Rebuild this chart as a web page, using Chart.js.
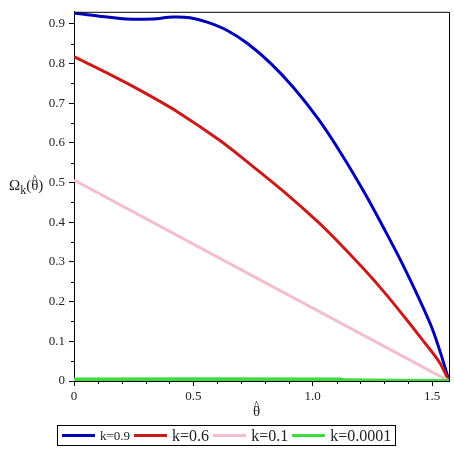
<!DOCTYPE html>
<html>
<head>
<meta charset="utf-8">
<script src="https://cdn.jsdelivr.net/npm/chart.js@4/dist/chart.umd.min.js"></script>
<style>
    body { margin: 0; background: #fff; }
    .wrap { position: relative; width: 454px; height: 454px; font-family: "Liberation Serif", "Times New Roman", serif; }
    canvas { position: absolute; left: 0; top: 0; }
    .ytitle { position: absolute; left: 9px; top: 177px; font-size: 15px; color: #222; white-space: nowrap; }
    .ytitle sub { font-size: 12px; vertical-align: -4px; }
    .xtitle { position: absolute; left: 253px; top: 403px; font-size: 15px; color: #222; }
    .th { position: relative; display: inline-block; }
    .hat { position: absolute; left: 0; width: 100%; text-align: center; top: -0.4em; font-size: 0.8em; }
    .legend { position: absolute; left: 57px; top: 425px; width: 337px; height: 19px; border: 1px solid #000; display: flex; align-items: center; }
    .legend span.line { display: inline-block; width: 33px; height: 3px; margin-left: 4px; margin-right: 5px; }
    .legend span.txt { font-size: 16px; color: #222; }
</style>
</head>
<body>
<div class="wrap">
    <canvas id="myChart" width="454" height="454"></canvas>
    <div class="ytitle">Ω<sub>k</sub>(<span class="th">θ<span class="hat">^</span></span>)</div>
    <div class="xtitle"><span class="th">θ<span class="hat">^</span></span></div>
    <div class="legend" id="legend"></div>
</div>
<script>
const labels = ['k=0.9', 'k=0.6', 'k=0.1', 'k=0.0001'];
const colors = ['#0000b8', '#cc1a1a', '#f2c0ca', '#3ddc3d'];

const k09Theta = [0, 0.106, 0.22, 0.33, 0.414, 0.486, 0.558, 0.642, 0.727, 0.824, 0.921, 1.023, 1.12, 1.217, 1.302, 1.374, 1.445, 1.5, 1.54, 1.5708];
const k09Omega = [0.927, 0.919, 0.912, 0.912, 0.917, 0.915, 0.904, 0.883, 0.85, 0.8, 0.738, 0.66, 0.572, 0.474, 0.38, 0.297, 0.208, 0.133, 0.062, 0];

const k06Theta = [0, 0.148, 0.287, 0.431, 0.613, 0.74, 0.879, 1.023, 1.12, 1.217, 1.302, 1.386, 1.458, 1.53, 1.5708];
const k06Omega = [0.817, 0.773, 0.729, 0.679, 0.605, 0.545, 0.477, 0.4, 0.342, 0.28, 0.222, 0.16, 0.105, 0.048, 0];

const k01Theta = [0, 1.5708];
const k01Omega = [0.506, 0];

const k00001Theta = [0, 1.12, 1.13, 1.5708];
const k00001Omega = [0.004, 0.004, 0.002, 0];

const xTicks = [0, 0.5, 1, 1.5];
const xMinor = [0.1, 0.2, 0.3, 0.4, 0.6, 0.7, 0.8, 0.9, 1.1, 1.2, 1.3, 1.4];
const yTicks = [0, 0.1, 0.2, 0.3, 0.4, 0.5, 0.6, 0.7, 0.8, 0.9];
const yMinor = [0.05, 0.15, 0.25, 0.35, 0.45, 0.55, 0.65, 0.75, 0.85];

function pts(xs, ys) {
    return xs.map(function (x, i) {
        return { x: x, y: ys[i] };
    });
}

const series = [pts(k09Theta, k09Omega), pts(k06Theta, k06Omega), pts(k01Theta, k01Omega), pts(k00001Theta, k00001Omega)];
const widths = [3, 3, 3, 4];

const legend = document.getElementById('legend');
labels.forEach(function (l, i) {
    const size = i === 0 ? 13 : 16;
    legend.innerHTML += `<span class="line" style="background:${colors[i]}"></span><span class="txt" style="font-size:${size}px">${l}</span>`;
});

// box + minor ticks, maple style
const frame = {
    id: 'frame',
    afterDraw(chart) {
        const c = chart.ctx;
        const a = chart.chartArea;
        const x = chart.scales.x;
        const y = chart.scales.y;
        c.save();
        c.strokeStyle = '#000';
        c.lineWidth = 1;
        c.beginPath();
        c.moveTo(a.left, a.top + 0.5);
        c.lineTo(a.right + 0.5, a.top + 0.5);
        c.lineTo(a.right + 0.5, a.bottom);
        for (let v of xMinor) {
            const px = Math.round(x.getPixelForValue(v)) + 0.5;
            c.moveTo(px, a.bottom);
            c.lineTo(px, a.bottom + 3);
        }
        for (let v of yMinor) {
            const py = Math.round(y.getPixelForValue(v)) + 0.5;
            c.moveTo(a.left, py);
            c.lineTo(a.left - 3, py);
        }
        c.stroke();
        c.restore();
    }
};

const tickFont = { family: '"Liberation Serif", "Times New Roman", serif', size: 13 };

const ctx = document.getElementById('myChart').getContext('2d');
const myChart = new Chart(ctx, {
    type: 'line',
    data: {
        datasets: series.map(function (d, i) {
            return {
                label: labels[i],
                data: d,
                borderColor: colors[i],
                backgroundColor: colors[i],
                borderWidth: widths[i],
                pointRadius: 0,
                tension: 0.3,
                order: 4 - i
            };
        })
    },
    options: {
        responsive: false,
        animation: false,
        layout: { padding: { left: 0, right: 5, top: 6, bottom: 0 } },
        plugins: {
            legend: { display: false },
            tooltip: { enabled: false }
        },
        scales: {
            x: {
                type: 'linear',
                min: 0,
                max: 1.5708,
                afterBuildTicks: function (axis) {
                    axis.ticks = xTicks.map(function (v) { return { value: v }; });
                },
                afterFit: function (axis) { axis.height = 73; },
                ticks: { font: tickFont, color: '#222', padding: 3, maxRotation: 0 },
                grid: { drawOnChartArea: false, tickLength: 5, color: '#000' },
                border: { color: '#000', width: 1 }
            },
            y: {
                min: 0,
                max: 0.93,
                afterBuildTicks: function (axis) {
                    axis.ticks = yTicks.map(function (v) { return { value: v }; });
                },
                afterFit: function (axis) { axis.width = 74; },
                ticks: { font: tickFont, color: '#222', padding: 4 },
                grid: { drawOnChartArea: false, tickLength: 5, color: '#000' },
                border: { color: '#000', width: 1 }
            }
        }
    },
    plugins: [frame]
});
</script>
</body>
</html>
